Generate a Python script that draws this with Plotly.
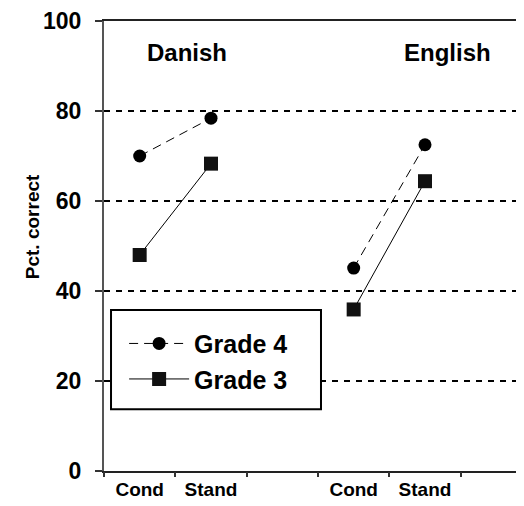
import plotly.graph_objects as go

# ---- data ----
groups = ["Danish", "English"]
conditions = ["Cond", "Stand"]
grade4_danish = [70.0, 78.4]
grade4_english = [45.1, 72.5]
grade3_danish = [48.0, 68.3]
grade3_english = [35.9, 64.4]
y_ticks = [0, 20, 40, 60, 80, 100]
y_title = "Pct. correct"

# category slots: Danish Cond/Stand at 0,1 ; English Cond/Stand at 3,4
def xs(group_index):
    return [group_index * 3 + i for i in range(len(conditions))]

x_all = xs(0) + [None] + xs(1)
g4 = grade4_danish + [None] + grade4_english
g3 = grade3_danish + [None] + grade3_english

FONT = "Liberation Sans, Arial, sans-serif"
xrange_ = [-0.5, 5.5]

fig = go.Figure()
fig.add_trace(go.Scatter(
    x=x_all, y=g4, name="Grade 4", mode="lines+markers",
    line=dict(color="black", width=1, dash="9px,6px"),
    marker=dict(symbol="circle", size=13, color="black"),
    connectgaps=False,
))
fig.add_trace(go.Scatter(
    x=x_all, y=g3, name="Grade 3", mode="lines+markers",
    line=dict(color="black", width=1),
    marker=dict(symbol="square", size=14, color="#111"),
    connectgaps=False,
))
# invisible trace for the secondary x axis (boundary ticks)
fig.add_trace(go.Scatter(x=[None], y=[None], xaxis="x2", showlegend=False,
                         hoverinfo="skip"))

tick_pos = xs(0) + xs(1)
tick_txt = conditions + conditions

fig.update_layout(
    width=524, height=506,
    margin=dict(l=96, r=0, t=11, b=43),
    paper_bgcolor="white", plot_bgcolor="white",
    font=dict(family=FONT, color="black"),
    showlegend=True,
    legend=dict(
        x=0.047, y=0.334, xanchor="left", yanchor="top",
        borderwidth=0, bgcolor="rgba(0,0,0,0)",
        font=dict(size=25, weight="bold", family=FONT),
        itemwidth=60, tracegroupgap=0,
    ),
    xaxis=dict(
        range=xrange_, tickvals=tick_pos, ticktext=tick_txt,
        ticks="", showgrid=False, zeroline=False,
        showline=True, linecolor="#222", linewidth=2, mirror=True,
        tickfont=dict(size=19, weight="bold", family=FONT),
        ticklabeloverflow="allow",
    ),
    xaxis2=dict(
        range=xrange_, overlaying="x", side="bottom",
        tickvals=[i - 0.5 for i in range(7)], showticklabels=False,
        ticks="outside", ticklen=5, tickwidth=1.5, tickcolor="#333",
        showgrid=False, zeroline=False, showline=False,
    ),
    yaxis=dict(
        range=[0, 100], tickvals=y_ticks,
        ticks="outside", ticklen=7, tickwidth=1.5, tickcolor="#333",
        showline=True, linecolor="#555", linewidth=2,
        showgrid=True, gridcolor="black", gridwidth=2, griddash="6px,6px",
        zeroline=False,
        tickfont=dict(size=23, weight="bold", family=FONT),
        ticklabeloverflow="allow", ticklabelstandoff=9,
    ),
    shapes=[
        dict(type="rect", xref="paper", yref="paper",
             x0=0.0164, x1=0.507, y0=0.137, y1=0.358,
             line=dict(color="black", width=2), fillcolor="white", layer="above"),
    ],
    annotations=[
        dict(x=0.66, y=92.9, xref="x", yref="y", text=groups[0], showarrow=False,
             font=dict(size=24, weight="bold", family=FONT)),
        dict(x=4.31, y=92.9, xref="x", yref="y", text=groups[1], showarrow=False,
             font=dict(size=24, weight="bold", family=FONT)),
        dict(x=-0.168, y=0.542, xref="paper", yref="paper", text=y_title,
             textangle=-90, showarrow=False, xanchor="center", yanchor="middle",
             font=dict(size=19, weight="bold", family=FONT)),
    ],
)

fig.write_html("out.html")
